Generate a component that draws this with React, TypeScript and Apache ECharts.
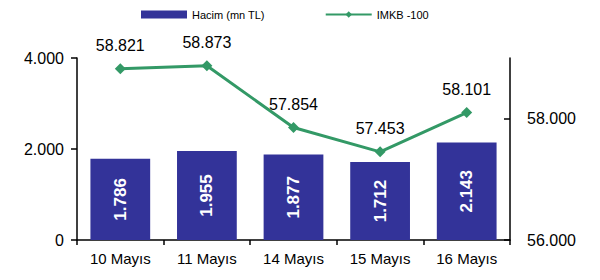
import React, { useEffect, useRef } from "react";
import * as echarts from "echarts";

const categories = ["10 Mayıs", "11 Mayıs", "14 Mayıs", "15 Mayıs", "16 Mayıs"];
const hacim = [1786, 1955, 1877, 1712, 2143];
const imkb = [58821, 58873, 57854, 57453, 58101];
const leftTicks = [0, 2000, 4000];
const rightTicks = [56000, 58000];

const fmt = (v: number) => {
  const s = String(Math.round(v));
  return s.replace(/\B(?=(\d{3})+(?!\d))/g, ".");
};

const FONT = "'Liberation Sans', Arial, sans-serif";

export default function App() {
  const ref = useRef<HTMLDivElement>(null);
  useEffect(() => {
    if (!ref.current) return;
    const chart = echarts.init(ref.current, null, { renderer: "svg" });
    chart.setOption({
      animation: false,
      textStyle: { fontFamily: FONT },
      legend: {
        left: 136,
        top: 4,
        itemWidth: 46,
        itemHeight: 8,
        itemGap: 60,
        textStyle: { fontFamily: FONT, fontSize: 11, color: "#000" },
        data: [
          { name: "Hacim (mn TL)", icon: "rect" },
          { name: "IMKB -100" },
        ],
      },
      grid: { left: 77, right: 90, top: 58, bottom: 40, containLabel: false },
      xAxis: {
        type: "category",
        data: categories,
        boundaryGap: true,
        axisLine: { lineStyle: { color: "#000", width: 1.5 } },
        axisTick: { show: true, alignWithLabel: false, length: 5, lineStyle: { color: "#000", width: 1.5 } },
        axisLabel: { color: "#000", fontSize: 15, fontFamily: FONT, margin: 11 },
      },
      yAxis: [
        {
          type: "value",
          min: 0,
          max: 4000,
          interval: 2000,
          splitLine: { show: false },
          axisLine: { show: true, lineStyle: { color: "#000", width: 1.5 } },
          axisTick: { show: true, length: 6, lineStyle: { color: "#000", width: 1.5 } },
          axisLabel: {
            color: "#000",
            fontSize: 16,
            fontFamily: FONT,
            margin: 13,
            formatter: (v: number) => (leftTicks.includes(v) ? fmt(v) : ""),
          },
        },
        {
          type: "value",
          min: 56000,
          max: 59000,
          interval: 2000,
          position: "right",
          splitLine: { show: false },
          axisLine: { show: true, lineStyle: { color: "#000", width: 1.5 } },
          axisTick: { show: true, length: 6, inside: true, customValues: rightTicks, lineStyle: { color: "#000", width: 1.5 } },
          axisLabel: {
            color: "#000",
            fontSize: 16,
            fontFamily: FONT,
            margin: 17,
            customValues: rightTicks,
            formatter: (v: number) => fmt(v),
          },
        },
      ],
      series: [
        {
          name: "Hacim (mn TL)",
          type: "bar",
          yAxisIndex: 0,
          data: hacim,
          barWidth: "69%",
          itemStyle: { color: "#333399" },
          label: {
            show: true,
            position: "inside",
            rotate: 90,
            color: "#fff",
            fontWeight: "bold",
            fontSize: 17,
            fontFamily: FONT,
            formatter: (p: any) => fmt(p.value),
          },
        },
        {
          name: "IMKB -100",
          type: "line",
          yAxisIndex: 1,
          data: imkb,
          symbol: "diamond",
          symbolSize: 11,
          lineStyle: { color: "#339966", width: 3 },
          itemStyle: { color: "#339966" },
          label: {
            show: true,
            position: "top",
            distance: 10,
            color: "#000",
            fontSize: 16,
            fontFamily: FONT,
            formatter: (p: any) => fmt(p.value),
          },
        },
      ],
    });
    return () => chart.dispose();
  }, []);
  return <div ref={ref} style={{ width: 600, height: 280, margin: -8 }} />;
}
